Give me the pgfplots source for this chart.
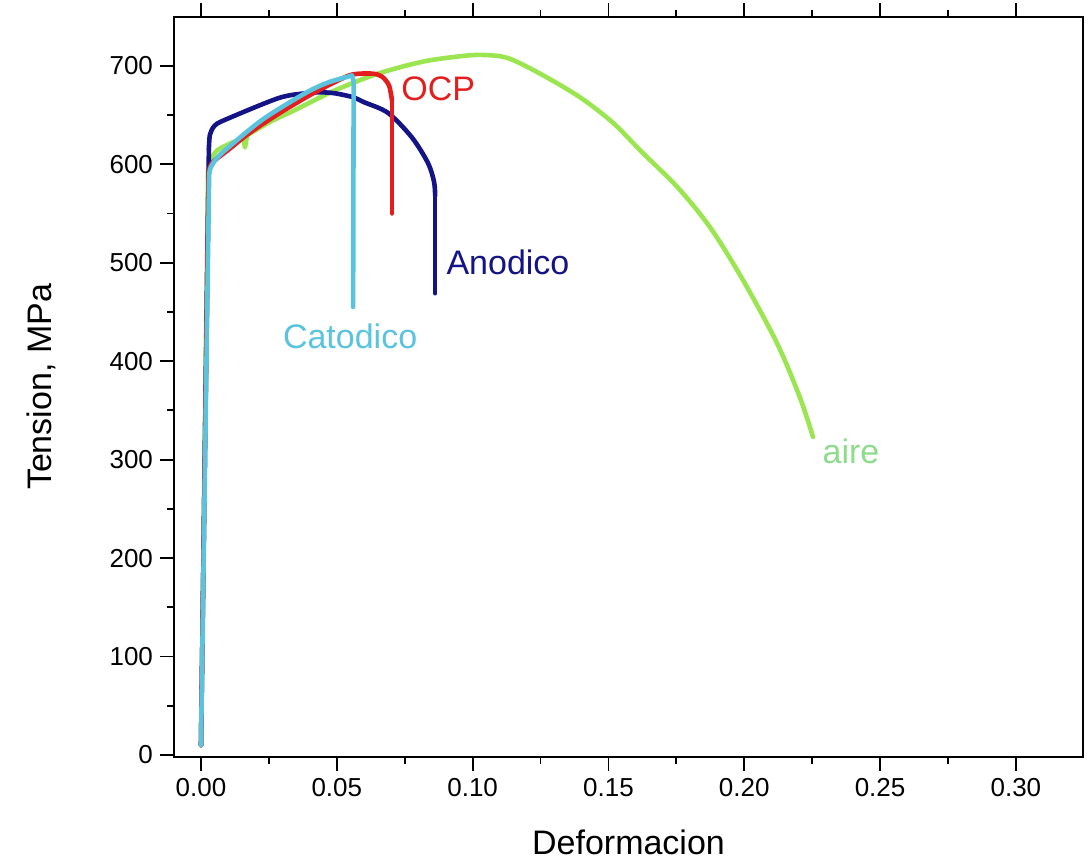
\documentclass[border=0pt]{standalone}
\usepackage{fontspec}
\setmainfont{Liberation Sans}
\usepackage{pgfplots}
\pgfplotsset{compat=1.18}
\definecolor{aireC}{RGB}{155,230,80}
\definecolor{aireT}{RGB}{140,220,140}
\definecolor{ocpC}{RGB}{228,30,30}
\definecolor{anoC}{RGB}{20,20,135}
\definecolor{catC}{RGB}{90,195,222}

\begin{document}
\begin{tikzpicture}
\useasboundingbox (-87pt,-53.5pt) rectangle (459pt,378.5pt);
\begin{axis}[
    scale only axis,
    width=454.5pt, height=370pt,
    xmin=-0.00994, xmax=0.3247,
    ymin=-2, ymax=749.5,
    xtick={0,0.05,...,0.30},
    ytick={0,100,...,700},
    minor x tick num=1,
    minor y tick num=1,
    xtick pos=both, ytick pos=left,
    tick align=outside,
    major tick length=7pt, minor tick length=3.5pt,
    every tick/.style={black, line width=0.9pt},
    axis line style={black, line width=1pt},
    tick label style={font=\fontsize{13}{15}\selectfont},
    /pgf/number format/assume math mode=true,
    x tick label style={/pgf/number format/.cd, fixed, fixed zerofill, precision=2},
    xlabel={Deformacion},
    ylabel={Tension, MPa},
    label style={font=\fontsize{17}{20}\selectfont},
    xlabel style={inner sep=1pt, yshift=-12pt},
    ylabel style={yshift=20pt},
    clip=false,
    every axis plot/.append style={line width=2.3pt, line join=round, line cap=round},
]
% aire
\addplot[aireC] coordinates {(0,10) (0.0026,594)};
\addplot[aireC, smooth, tension=0.5] coordinates {
(0.0026,594) (0.0040,606) (0.0059,614) (0.0107,621) (0.0155,627)
(0.0254,643) (0.0346,655) (0.0493,675) (0.0652,692)
(0.0814,704) (0.0935,709) (0.1027,711) (0.1127,708) (0.1248,692) (0.1395,668)
(0.1517,642) (0.1624,612) (0.1753,577) (0.1874,536) (0.1996,482) (0.2121,418)
(0.2205,363) (0.2253,323)
};
\addplot[aireC] coordinates {(0.0155,627) (0.0162,617) (0.0169,628)};
% Anodico
\addplot[anoC] coordinates {(0,10) (0.0028,590) (0.0029,615)};
\addplot[anoC, smooth, tension=0.5] coordinates {
(0.0029,615) (0.0033,630) (0.0050,639) (0.0088,645) (0.0284,667)
(0.0383,672) (0.0438,673) (0.0493,672) (0.0560,668) (0.0600,663) (0.0689,652)
(0.0777,627) (0.0836,601) (0.0858,582) (0.0862,568)
};
\addplot[anoC] coordinates {(0.0862,568) (0.0862,469)};
% OCP
\addplot[ocpC] coordinates {(0,10) (0.0028,590)};
\addplot[ocpC, smooth, tension=0.5] coordinates {
(0.0028,590) (0.0040,601) (0.0107,616) (0.0180,632) (0.0290,652)
(0.0400,670) (0.0490,683) (0.0556,691) (0.0630,692) (0.0666,689) (0.0692,680)
(0.0703,665)
};
\addplot[ocpC] coordinates {(0.0703,665) (0.0703,550)};
% Catodico
\addplot[catC] coordinates {(0,10) (0.0030,590)};
\addplot[catC, smooth, tension=0.5] coordinates {
(0.0030,590) (0.0035,596) (0.0052,604) (0.0088,614) (0.0225,645)
(0.0383,672) (0.0468,683) (0.0556,690)
};
\addplot[catC] coordinates {(0.0556,690) (0.0562,684) (0.0560,455)};
\node[ocpC, font=\fontsize{17}{20}\selectfont] at (axis cs:0.0873,677) {OCP};
\node[anoC, font=\fontsize{17}{20}\selectfont] at (axis cs:0.113,500) {Anodico};
\node[catC, font=\fontsize{17}{20}\selectfont] at (axis cs:0.0549,425) {Catodico};
\node[aireT, font=\fontsize{17}{20}\selectfont] at (axis cs:0.2393,308) {aire};
\end{axis}
\end{tikzpicture}
\end{document}
